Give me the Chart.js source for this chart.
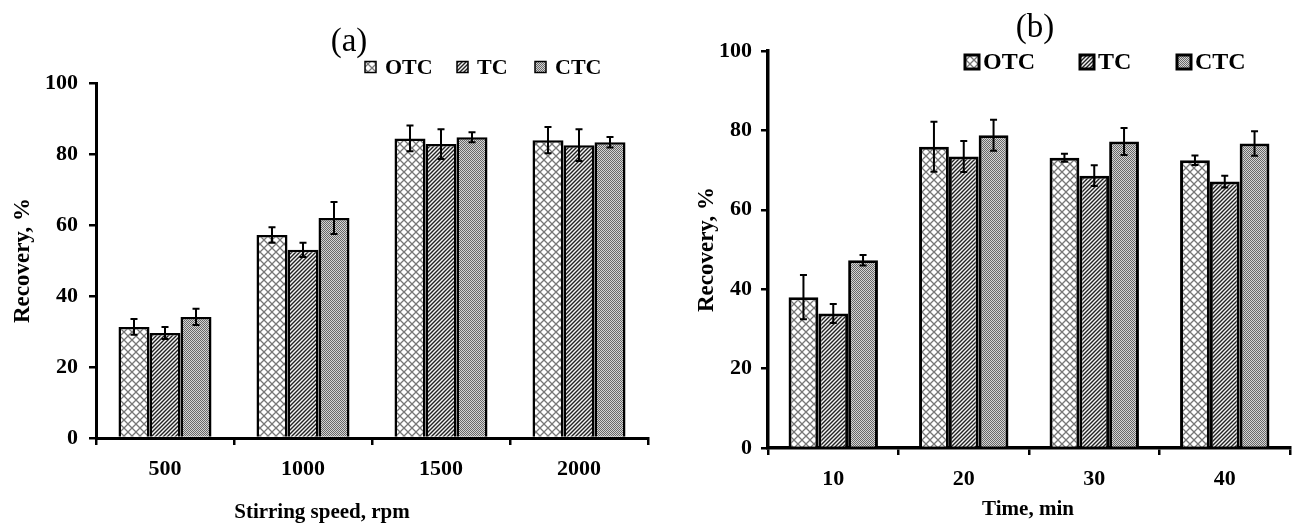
<!DOCTYPE html>
<html lang="en">
<head>
<meta charset="UTF-8">
<title>Recovery vs stirring speed and time</title>
<script src="https://cdn.jsdelivr.net/npm/chart.js"></script>
<style>
  body { margin: 0; background: #fff; }
  .panel { position: absolute; top: 0; }
  #panelA { left: 0; }
  #panelB { left: 650px; }
</style>
</head>
<body>

<div class="panel" id="panelA"><canvas id="chartA" width="650" height="529"></canvas></div>
<div class="panel" id="panelB"><canvas id="chartB" width="646" height="529"></canvas></div>

<script>
const seriesNames = ['OTC', 'TC', 'CTC'];

// (a) stirring speed
const speedLabels = ['500', '1000', '1500', '2000'];
const speedOTC = [31.3, 57.2, 84.4, 83.9];
const speedOTCErr = [2.2, 2.2, 3.6, 3.7];
const speedTC = [29.6, 53.0, 82.8, 82.5];
const speedTCErr = [1.7, 2.0, 4.2, 4.5];
const speedCTC = [34.1, 62.0, 84.7, 83.3];
const speedCTCErr = [2.3, 4.5, 1.4, 1.5];

// (b) time
const timeLabels = ['10', '20', '30', '40'];
const timeOTC = [38.0, 75.9, 73.1, 72.5];
const timeOTCErr = [5.6, 6.3, 1.0, 1.2];
const timeTC = [33.9, 73.4, 68.6, 67.1];
const timeTCErr = [2.4, 3.9, 2.6, 1.5];
const timeCTC = [47.3, 78.8, 77.2, 76.7];
const timeCTCErr = [1.3, 3.9, 3.4, 3.1];

const yTicks = [0, 20, 40, 60, 80, 100];

const serifFamily = '"Liberation Serif", "Times New Roman", serif';

function makePattern(kind) {
  const c = document.createElement('canvas');
  const g = c.getContext('2d');
  if (kind === 'cross') {
    c.width = c.height = 8;
    g.fillStyle = '#fff'; g.fillRect(0, 0, 8, 8);
    g.strokeStyle = '#777'; g.lineWidth = 1.3;
    g.beginPath();
    g.moveTo(0, 0); g.lineTo(8, 8);
    g.moveTo(8, 0); g.lineTo(0, 8);
    g.stroke();
  } else if (kind === 'diag') {
    c.width = c.height = 4;
    g.fillStyle = '#f4f4f4'; g.fillRect(0, 0, 4, 4);
    g.strokeStyle = '#222'; g.lineWidth = 1.4;
    g.beginPath();
    g.moveTo(0, 4); g.lineTo(4, 0);
    g.moveTo(-1, 1); g.lineTo(1, -1);
    g.moveTo(3, 5); g.lineTo(5, 3);
    g.stroke();
  } else {
    c.width = c.height = 2;
    g.fillStyle = '#d4d4d4'; g.fillRect(0, 0, 2, 2);
    g.fillStyle = '#686868'; g.fillRect(0, 0, 1, 1); g.fillRect(1, 1, 1, 1);
  }
  return g.createPattern(c, 'repeat');
}
const fills = [makePattern('cross'), makePattern('diag'), makePattern('dots')];

const errorBars = {
  id: 'errorBars',
  afterDatasetsDraw(chart, args, opts) {
    const ctx = chart.ctx, y = chart.scales.y, cap = opts.cap;
    ctx.save();
    ctx.strokeStyle = '#000';
    ctx.lineWidth = opts.width;
    chart.data.datasets.forEach((ds, i) => {
      chart.getDatasetMeta(i).data.forEach((bar, j) => {
        const top = y.getPixelForValue(ds.data[j] + ds.errors[j]);
        const bot = y.getPixelForValue(ds.data[j] - ds.errors[j]);
        ctx.beginPath();
        ctx.moveTo(bar.x, top); ctx.lineTo(bar.x, bot);
        ctx.moveTo(bar.x - cap, top); ctx.lineTo(bar.x + cap, top);
        ctx.moveTo(bar.x - cap, bot); ctx.lineTo(bar.x + cap, bot);
        ctx.stroke();
      });
    });
    ctx.restore();
  }
};

// panel letter, legend row and x-axis title, placed where the original figure has them
const panelText = {
  id: 'panelText',
  afterDraw(chart, args, o) {
    const ctx = chart.ctx;
    ctx.save();
    ctx.fillStyle = '#000';
    ctx.textBaseline = 'middle';
    ctx.textAlign = 'center';
    ctx.font = '33px ' + serifFamily;
    ctx.fillText(o.title, o.titleX, o.titleY);
    ctx.font = 'bold 21px ' + serifFamily;
    ctx.fillText(o.xTitle, o.xTitleX, o.xTitleY);
    ctx.textAlign = 'left';
    ctx.font = 'bold ' + o.legendSize + 'px ' + serifFamily;
    chart.data.datasets.forEach((ds, i) => {
      const x = o.legendX[i], s = o.box;
      ctx.fillStyle = ds.backgroundColor;
      ctx.fillRect(x, o.legendY - s / 2, s, s);
      ctx.lineWidth = o.boxBorder;
      ctx.strokeStyle = '#000';
      ctx.strokeRect(x, o.legendY - s / 2, s, s);
      ctx.fillStyle = '#000';
      ctx.fillText(ds.label, x + s + o.gap, o.legendY + 1);
    });
    ctx.restore();
  }
};

function makeChart(id, labels, values, errors, geo) {
  const serif = { family: serifFamily, weight: 'bold' };
  return new Chart(document.getElementById(id), {
    type: 'bar',
    data: {
      labels: labels,
      datasets: seriesNames.map((name, i) => ({
        label: name,
        data: values[i],
        errors: errors[i],
        backgroundColor: fills[i],
        borderColor: '#000',
        borderWidth: geo.barBorder,
        barPercentage: 1,
        categoryPercentage: geo.cat
      }))
    },
    options: {
      responsive: false,
      animation: false,
      layout: { padding: { top: geo.top, right: geo.right, left: 0, bottom: 0 } },
      plugins: {
        legend: { display: false },
        tooltip: { enabled: false },
        errorBars: { cap: 3.5, width: 2 },
        panelText: geo.text
      },
      scales: {
        x: {
          afterFit: s => { s.height = geo.xHeight; },
          grid: { drawOnChartArea: false, color: '#000', lineWidth: 2.5, tickLength: 7 },
          border: { color: '#000', width: geo.axisWidth },
          ticks: { color: '#000', padding: 11, font: { ...serif, size: 22 } }
        },
        y: {
          min: 0, max: 100,
          afterFit: s => { s.width = geo.yWidth; },
          afterBuildTicks: s => { s.ticks = yTicks.map(v => ({ value: v })); },
          grid: { drawOnChartArea: false, color: '#000', lineWidth: 2.5, tickLength: 7 },
          border: { color: '#000', width: geo.axisWidth },
          ticks: { color: '#000', padding: geo.yPad, font: { ...serif, size: 22 } },
          title: { display: true, text: 'Recovery, %', color: '#000', padding: { top: geo.yTitlePad }, font: { ...serif, size: 23 } }
        }
      }
    },
    plugins: [errorBars, panelText]
  });
}

makeChart('chartA', speedLabels,
  [speedOTC, speedTC, speedCTC], [speedOTCErr, speedTCErr, speedCTCErr],
  { top: 83, right: 2, yWidth: 96, xHeight: 91, cat: 0.674, barBorder: 2.5, axisWidth: 3,
    yTitlePad: 9, yPad: 11,
    text: { title: '(a)', titleX: 349, titleY: 42, legendY: 67, legendX: [365, 457, 535],
            box: 11, boxBorder: 1.5, gap: 9, legendSize: 22,
            xTitle: 'Stirring speed, rpm', xTitleX: 322, xTitleY: 513 } });

makeChart('chartB', timeLabels,
  [timeOTC, timeTC, timeCTC], [timeOTCErr, timeTCErr, timeCTCErr],
  { top: 51, right: 6, yWidth: 118, xHeight: 81, cat: 0.685, barBorder: 3, axisWidth: 3.5,
    yTitlePad: 43, yPad: 9,
    text: { title: '(b)', titleX: 385, titleY: 28, legendY: 62, legendX: [315, 430, 527],
            box: 14, boxBorder: 3, gap: 4, legendSize: 24,
            xTitle: 'Time, min', xTitleX: 378, xTitleY: 510 } });
</script>

</body>
</html>
